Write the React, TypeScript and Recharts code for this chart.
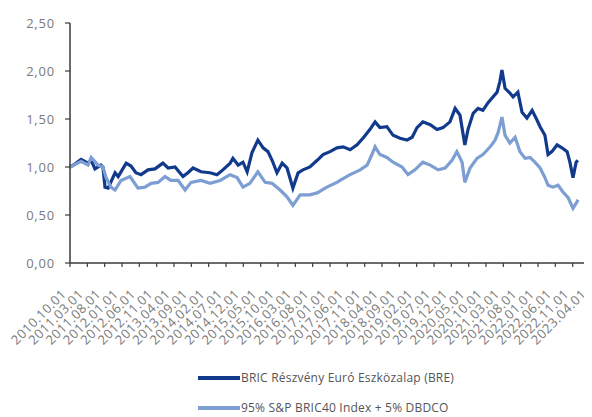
import React from "react";
import { LineChart, Line, XAxis, YAxis } from "recharts";

// x positions: months elapsed since 2010.10.01
const breMonths = [0, 1.4, 3.2, 5.2, 6.1, 7.2, 8.9, 9.5, 10.1, 11.0, 13.0, 13.9, 16.2, 17.6, 19.0, 20.5, 22.5, 24.5, 26.8, 28.3, 30.3, 32.6, 34.0, 35.5, 37.8, 40.4, 42.4, 44.1, 46.2, 47.0, 48.5, 49.9, 51.1, 52.5, 54.2, 55.7, 57.1, 58.3, 59.7, 61.2, 62.6, 64.3, 65.8, 67.2, 69.2, 71.3, 73.0, 75.0, 77.0, 78.8, 80.8, 82.8, 84.5, 86.5, 88.0, 89.4, 91.4, 93.2, 95.2, 97.2, 98.7, 100.1, 101.8, 103.9, 105.9, 107.6, 109.6, 111.1, 112.5, 113.9, 114.8, 116.3, 117.7, 119.1, 120.6, 122.0, 123.2, 124.0, 124.6, 125.5, 126.9, 127.8, 129.2, 130.4, 131.8, 133.3, 134.7, 135.6, 137.0, 137.9, 139.0, 140.5, 141.9, 143.4, 144.2, 145.1, 146.0, 146.5];
const breValues = [1.0, 1.03, 1.08, 1.04, 1.07, 0.98, 1.02, 1.0, 0.79, 0.78, 0.94, 0.9, 1.04, 1.01, 0.94, 0.92, 0.97, 0.98, 1.04, 0.99, 1.0, 0.9, 0.94, 0.99, 0.95, 0.94, 0.92, 0.97, 1.04, 1.09, 1.02, 1.05, 0.95, 1.15, 1.28, 1.2, 1.16, 1.07, 0.94, 1.04, 0.99, 0.78, 0.94, 0.97, 1.0, 1.07, 1.13, 1.16, 1.2, 1.21, 1.18, 1.23, 1.3, 1.39, 1.47, 1.41, 1.42, 1.33, 1.3, 1.28, 1.31, 1.41, 1.47, 1.44, 1.39, 1.41, 1.47, 1.61, 1.54, 1.23, 1.39, 1.56, 1.61, 1.59, 1.67, 1.73, 1.78, 1.89, 2.01, 1.82, 1.77, 1.73, 1.78, 1.57, 1.51, 1.59, 1.49, 1.42, 1.33, 1.13, 1.16, 1.23, 1.2, 1.16, 1.05, 0.89, 1.05, 1.07];

const idxMonths = [0, 3.2, 5.2, 6.1, 8.1, 9.5, 10.4, 11.8, 13.0, 14.7, 17.3, 19.6, 21.6, 23.4, 25.4, 27.4, 29.1, 31.2, 33.2, 34.9, 37.8, 40.4, 43.3, 46.2, 48.2, 49.9, 51.9, 54.2, 56.3, 58.3, 60.6, 62.6, 64.3, 66.4, 69.2, 71.3, 74.1, 77.0, 77.9, 80.8, 83.7, 85.7, 87.1, 88.0, 89.4, 91.4, 93.2, 95.8, 97.5, 99.5, 101.8, 103.9, 106.2, 108.2, 110.2, 111.6, 113.1, 113.9, 115.4, 117.4, 119.1, 121.2, 122.6, 123.5, 124.6, 125.5, 126.9, 128.4, 129.8, 131.3, 132.7, 134.1, 135.6, 137.0, 137.9, 139.3, 140.8, 142.2, 143.7, 145.1, 146.3, 146.5];
const idxValues = [1.0, 1.06, 1.02, 1.1, 1.02, 1.0, 0.89, 0.79, 0.76, 0.86, 0.9, 0.78, 0.79, 0.83, 0.84, 0.9, 0.86, 0.86, 0.76, 0.84, 0.86, 0.83, 0.86, 0.92, 0.89, 0.79, 0.83, 0.95, 0.84, 0.83, 0.76, 0.69, 0.6, 0.71, 0.71, 0.73, 0.79, 0.84, 0.86, 0.92, 0.97, 1.02, 1.13, 1.21, 1.13, 1.1, 1.05, 1.0, 0.92, 0.97, 1.05, 1.02, 0.97, 0.99, 1.07, 1.16, 1.05, 0.84, 0.99, 1.09, 1.13, 1.21, 1.28, 1.36, 1.52, 1.33, 1.25, 1.31, 1.16, 1.09, 1.1, 1.05, 0.99, 0.89, 0.81, 0.79, 0.81, 0.74, 0.68, 0.57, 0.64, 0.66];

const xTickLabels = [
  "2010.10.01", "2011.03.01", "2011.08.01", "2012.01.01", "2012.06.01", "2012.11.01",
  "2013.04.01", "2013.09.01", "2014.02.01", "2014.07.01", "2014.12.01", "2015.05.01",
  "2015.10.01", "2016.03.01", "2016.08.01", "2017.01.01", "2017.06.01", "2017.11.01",
  "2018.04.01", "2018.09.01", "2019.02.01", "2019.07.01", "2019.12.01", "2020.05.01",
  "2020.10.01", "2021.03.01", "2021.08.01", "2022.01.01", "2022.06.01", "2022.11.01",
  "2023.04.01",
];
const xTickMonths = xTickLabels.map((_, i) => i * 5);
const yTicks = [0, 0.5, 1, 1.5, 2, 2.5];

const seriesNames = ["BRIC Részvény Euró Eszközalap (BRE)", "95% S&P BRIC40 Index + 5% DBDCO"];
const colors = ["#123a8c", "#7d9ed3"];

const breData = breMonths.map((m, i) => ({ m, v: breValues[i] }));
const idxData = idxMonths.map((m, i) => ({ m, v: idxValues[i] }));

const FONT = "'Open Sans', 'DejaVu Sans', sans-serif";

const XTick = (props: any) => {
  const { x, y, payload } = props;
  const label = xTickLabels[Math.round(payload.value / 5)] ?? "";
  return (
    <g transform={`translate(${x - 3},${y + 26})`}>
      <text
        x={0}
        y={0}
        textAnchor="end"
        transform="rotate(-45)"
        fill="#7a7a7a"
        fontSize={13}
        letterSpacing={0.5}
        fontFamily={FONT}
      >
        {label}
      </text>
    </g>
  );
};

export default function App() {
  return (
    <div style={{ position: "relative", width: 584, height: 409 }}>
      <LineChart
        width={584}
        height={400}
        margin={{ top: 15, right: 2, left: 0, bottom: 0 }}
        style={{ overflow: "visible" }}
      >
        <XAxis
          dataKey="m"
          type="number"
          domain={[0, 150]}
          ticks={xTickMonths}
          interval={0}
          height={145}
          tick={<XTick />}
          tickSize={4}
          axisLine={{ stroke: "#3a3a3a", strokeWidth: 1.5 }}
          tickLine={{ stroke: "#3a3a3a", strokeWidth: 1.2 }}
          allowDuplicatedCategory={false}
        />
        <YAxis
          type="number"
          domain={[0, 2.5]}
          ticks={yTicks}
          width={62}
          tickSize={5}
          tickMargin={10}
          tickFormatter={(v: number) => v.toFixed(2).replace(".", ",")}
          tick={{ fill: "#7a7a7a", fontSize: 13, fontFamily: FONT, letterSpacing: 0.8 }}
          axisLine={{ stroke: "#3a3a3a", strokeWidth: 1.5 }}
          tickLine={{ stroke: "#3a3a3a", strokeWidth: 1.2 }}
        />
        <Line
          data={breData}
          dataKey="v"
          name={seriesNames[0]}
          stroke={colors[0]}
          strokeWidth={3.2}
          dot={false}
          type="linear"
          isAnimationActive={false}
        />
        <Line
          data={idxData}
          dataKey="v"
          name={seriesNames[1]}
          stroke={colors[1]}
          strokeWidth={3.2}
          dot={false}
          type="linear"
          isAnimationActive={false}
        />
      </LineChart>
      <div
        style={{
          position: "absolute",
          left: 190,
          top: 355,
          fontFamily: FONT,
          fontSize: 12,
          lineHeight: "16px",
          color: "#555",
          letterSpacing: 0.2,
        }}
      >
        {seriesNames.map((n, i) => (
          <div key={n} style={{ display: "flex", alignItems: "center", height: 30 }}>
            <span style={{ display: "inline-block", width: 42, height: 3.5, background: colors[i] }} />
            <span style={{ marginLeft: 1, whiteSpace: "nowrap" }}>{n}</span>
          </div>
        ))}
      </div>
    </div>
  );
}
